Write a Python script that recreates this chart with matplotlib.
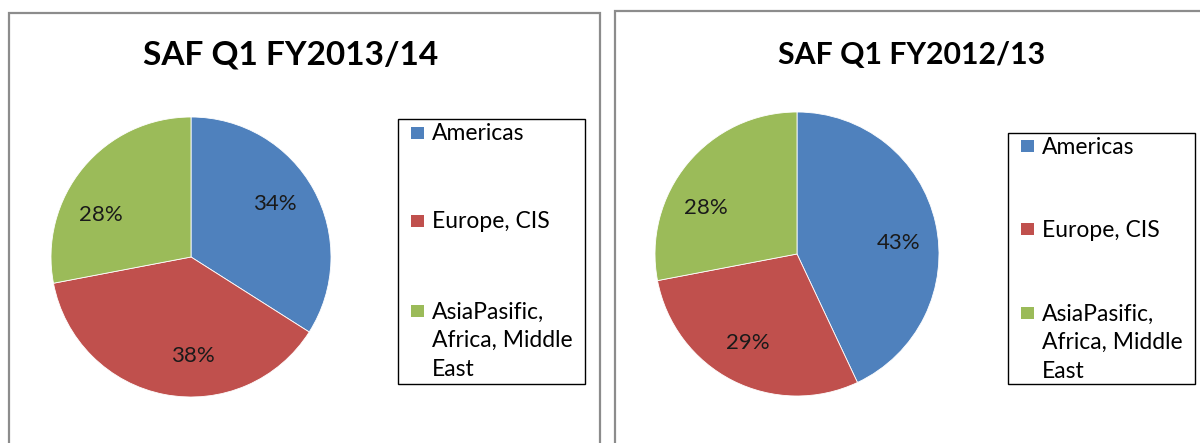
import numpy as np
import matplotlib
matplotlib.use("Agg")
import matplotlib.pyplot as plt
from matplotlib.patches import Rectangle

plt.rcParams['font.family'] = ['Lato', 'DejaVu Sans']

categories = ["Americas", "Europe, CIS", "AsiaPasific,\nAfrica, Middle\nEast"]
titles = ["SAF Q1 FY2013/14", "SAF Q1 FY2012/13"]
values_2013 = [34, 38, 28]
values_2012 = [43, 29, 28]
colors = ["#4F81BD", "#C0504D", "#9BBB59"]

W, H = 1200, 443
fig = plt.figure(figsize=(W / 100, H / 100), dpi=100)

def fx(x):
    return x / W

def fy(y):
    return 1 - y / H

# panel borders
for (x0, y0, x1) in [(9, 13, 600), (615, 11, 1210)]:
    fig.add_artist(Rectangle((fx(x0), fy(470)), fx(x1 - x0), (470 - y0) / H,
                             transform=fig.transFigure, fill=False,
                             edgecolor="#8c8c8c", linewidth=1.6))

panels = [
    dict(vals=values_2013, title=titles[0], cx=191, cy=257, r=140, tx=291, ty=55, tsize=24,
         label_angles=[32, -89, 155], label_dist=0.71,
         leg=(398, 119, 585, 384), sq_x=411, txt_x=432, rows=[133, 221, 311]),
    dict(vals=values_2012, title=titles[1], cx=797, cy=254, r=142, tx=912, ty=55, tsize=21.8,
         label_angles=[6, -119, 153], label_dist=0.72,
         leg=(1008, 133, 1195, 384), sq_x=1021, txt_x=1042, rows=[146, 229, 313]),
]

for p in panels:
    cx, cy, r = p["cx"], p["cy"], p["r"]
    ax = fig.add_axes([fx(cx - r), fy(cy + r), 2 * r / W, 2 * r / H])
    wedges, texts, autotexts = ax.pie(
        p["vals"], colors=colors, startangle=90, counterclock=False,
        autopct=lambda v: f"{v:.0f}%", pctdistance=0.71,
        wedgeprops=dict(linewidth=0.6, edgecolor="white"),
        textprops=dict(fontsize=16, color="#1a1a1a"))
    for t, a in zip(autotexts, p["label_angles"]):
        t.set_position((p["label_dist"] * np.cos(np.radians(a)),
                        p["label_dist"] * np.sin(np.radians(a))))
    ax.set_xlim(-1, 1)
    ax.set_ylim(-1, 1)
    ax.set_aspect("auto")
    ax.axis("off")
    fig.text(fx(p["tx"]), fy(p["ty"]), p["title"], ha="center", va="center",
             fontsize=p["tsize"], fontweight="bold", color="#000000")
    # legend
    lx0, ly0, lx1, ly1 = p["leg"]
    fig.add_artist(Rectangle((fx(lx0), fy(ly1)), fx(lx1 - lx0), (ly1 - ly0) / H,
                             transform=fig.transFigure, fill=True, facecolor="white",
                             edgecolor="black", linewidth=1.0))
    for lab, col, yc in zip(categories, colors, p["rows"]):
        fig.add_artist(Rectangle((fx(p["sq_x"]), fy(yc + 6)), fx(13), 12 / H,
                                 transform=fig.transFigure, facecolor=col,
                                 edgecolor="none"))
        fig.text(fx(p["txt_x"]), fy(yc - 9.5), lab, ha="left", va="top",
                 fontsize=16.5, color="#000000", linespacing=1.45)

fig.savefig("out.png", dpi=100, facecolor="white")
